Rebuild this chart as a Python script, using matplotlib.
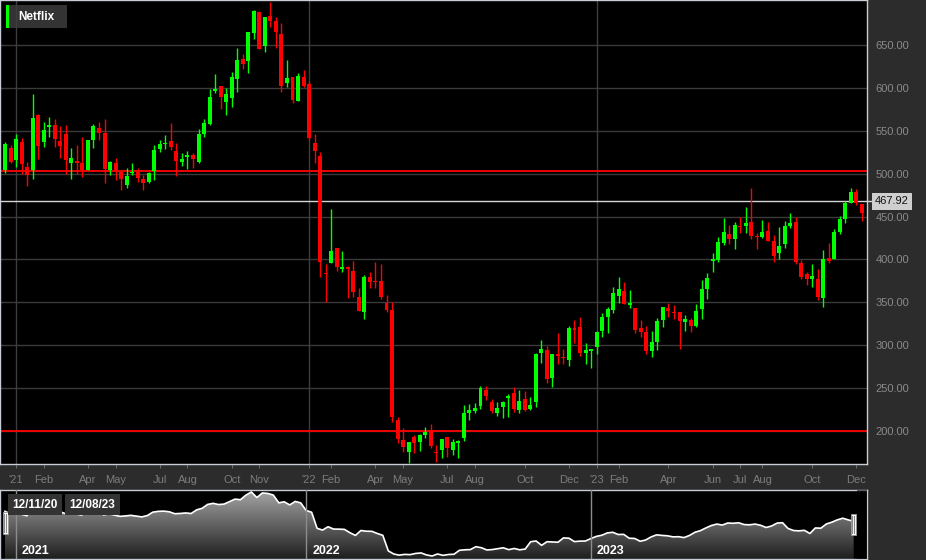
import numpy as np
import pandas as pd
import matplotlib
matplotlib.use('Agg')
import matplotlib.pyplot as plt
import matplotlib.transforms as mtransforms
from matplotlib.patches import Rectangle, Polygon
from matplotlib.colors import LinearSegmentedColormap

plt.rcParams['font.family'] = ['Liberation Sans', 'DejaVu Sans']

# weekly candles, weeks ending on Friday, first one 2020-12-18
first_week = '2020-12-18'
series_name = 'Netflix'

opens = [
    504.3, 530.3, 515.9, 537.3, 507.4, 504.3, 568.4, 536.5, 554.8, 556.7,
    538.5, 545.9, 512.1, 514.8, 512.8, 504.3, 539.3, 552.9, 547.4, 504.3,
    512.1, 501.6, 486.8, 501.2, 504.3, 493.4, 490.7, 503.1, 528.8, 534.2,
    538.1, 526.8, 513.2, 520.0, 521.8, 514.0, 545.9, 557.9, 596.8, 602.2,
    583.9, 587.8, 610.0, 633.7, 631.7, 663.6, 688.9, 648.8, 683.8, 678.4,
    662.8, 606.1, 612.3, 585.1, 613.1, 604.5, 535.4, 521.0, 384.6, 396.2,
    413.3, 388.9, 390.8, 386.9, 355.8, 339.1, 379.1, 374.9, 374.9, 349.6,
    341.1, 212.8, 189.5, 175.9, 192.6, 187.6, 195.3, 201.2, 175.9, 177.9,
    192.6, 177.9, 185.6, 192.2, 221.4, 223.7, 229.5, 247.8, 234.2, 221.4,
    227.6, 238.1, 243.9, 224.5, 237.3, 225.7, 233.4, 290.6, 294.4, 262.2,
    289.8, 286.6, 282.8, 319.7, 320.9, 291.3, 293.7, 298.3, 317.0, 332.5,
    341.1, 357.8, 363.2, 346.9, 343.8, 320.5, 315.0, 293.7, 303.4, 329.4,
    342.9, 339.1, 339.1, 327.5, 329.4, 322.4, 341.8, 365.5, 397.8, 399.4,
    419.6, 429.7, 423.8, 439.4, 439.4, 444.0, 427.3, 426.5, 433.2, 421.5,
    407.1, 418.0, 439.0, 444.0, 395.5, 382.6, 377.2, 377.2, 355.4, 401.3,
    400.1, 432.4, 446.7, 465.4, 479.0, 464.2,
]
highs = [
    536.5, 533.4, 545.9, 541.2, 514.0, 592.5, 569.2, 559.8, 566.5, 563.3,
    556.0, 556.7, 529.5, 533.4, 543.1, 539.3, 557.5, 560.2, 563.3, 515.2,
    517.9, 504.3, 506.2, 512.1, 506.2, 498.4, 502.3, 533.0, 539.3, 545.1,
    558.7, 536.1, 523.7, 526.4, 523.7, 551.7, 563.3, 598.3, 616.2, 602.2,
    599.5, 618.9, 646.1, 639.1, 664.8, 690.8, 690.1, 683.0, 700.5, 683.0,
    675.3, 632.5, 612.3, 617.0, 620.9, 608.4, 546.2, 525.6, 394.7, 458.8,
    413.3, 409.8, 392.7, 398.2, 366.3, 381.9, 385.8, 396.6, 394.7, 358.5,
    350.8, 216.7, 203.9, 187.6, 195.3, 196.5, 205.0, 207.8, 183.7, 190.7,
    192.6, 190.3, 189.5, 230.3, 231.5, 232.3, 252.5, 252.5, 236.9, 233.4,
    235.0, 242.7, 251.7, 247.8, 246.6, 239.3, 290.6, 306.1, 299.1, 289.8,
    313.9, 295.2, 322.4, 329.4, 332.5, 302.2, 295.2, 317.0, 337.2, 344.9,
    368.3, 379.2, 373.3, 364.4, 343.8, 329.4, 322.8, 316.6, 331.3, 345.0,
    349.6, 346.9, 339.1, 335.2, 331.3, 348.0, 376.0, 383.8, 407.1, 426.6,
    447.9, 440.2, 444.0, 449.9, 460.8, 482.9, 431.2, 446.0, 443.3, 428.5,
    437.4, 445.2, 453.7, 449.1, 399.4, 385.7, 394.3, 388.5, 411.0, 418.8,
    435.1, 450.6, 468.5, 482.9, 481.7, 464.2,
]
lows = [
    501.2, 512.1, 507.4, 499.6, 485.6, 493.4, 516.7, 531.5, 543.1, 531.5,
    517.9, 499.2, 493.4, 499.6, 496.5, 504.3, 529.5, 539.3, 488.7, 498.4,
    492.6, 481.0, 482.9, 498.4, 490.7, 481.0, 488.7, 492.6, 525.6, 528.8,
    527.6, 497.3, 509.3, 505.4, 507.0, 512.0, 543.1, 556.7, 593.6, 575.0,
    568.4, 577.3, 595.2, 621.6, 617.0, 657.0, 645.3, 642.2, 671.4, 646.1,
    594.8, 600.6, 582.0, 585.1, 600.6, 539.2, 512.0, 379.9, 350.8, 395.5,
    386.9, 385.8, 354.7, 356.6, 340.3, 330.2, 366.3, 366.3, 353.5, 339.1,
    210.9, 185.6, 175.9, 162.3, 174.7, 177.1, 191.5, 179.8, 164.2, 168.1,
    170.1, 172.0, 168.9, 188.7, 212.8, 220.6, 225.3, 236.1, 220.6, 217.5,
    214.8, 215.9, 221.8, 220.6, 223.7, 224.5, 228.4, 279.7, 255.6, 251.7,
    277.7, 277.7, 275.8, 302.2, 287.5, 278.1, 273.1, 289.8, 309.2, 313.9,
    337.2, 348.8, 347.7, 343.0, 313.9, 310.0, 289.4, 285.9, 294.4, 321.6,
    332.5, 330.2, 295.6, 317.0, 315.8, 320.9, 330.2, 353.5, 385.8, 396.6,
    416.8, 418.0, 411.8, 430.4, 431.2, 423.4, 411.8, 424.6, 421.9, 397.4,
    400.1, 412.9, 436.3, 394.7, 377.2, 370.2, 367.5, 352.7, 344.9, 395.5,
    400.1, 429.3, 442.9, 465.4, 463.5, 445.2,
]
closes = [
    534.2, 514.0, 540.4, 510.9, 498.4, 564.9, 532.6, 550.5, 556.7, 540.4,
    532.6, 515.9, 517.9, 512.8, 504.3, 539.3, 555.2, 547.0, 505.1, 514.0,
    504.3, 493.8, 497.3, 501.9, 495.3, 489.5, 500.4, 527.6, 534.2, 535.8,
    530.7, 515.2, 517.1, 521.2, 516.7, 546.2, 558.7, 589.8, 598.7, 589.0,
    592.5, 612.3, 632.5, 627.9, 664.8, 690.0, 645.3, 682.2, 678.4, 665.5,
    602.6, 611.1, 585.9, 613.9, 602.6, 541.2, 526.8, 397.4, 383.4, 410.2,
    391.6, 390.8, 388.9, 362.0, 340.3, 379.9, 374.1, 373.3, 355.8, 341.1,
    215.9, 190.7, 181.7, 187.6, 185.6, 195.3, 199.2, 182.9, 174.7, 190.7,
    179.8, 186.8, 188.7, 220.6, 224.5, 226.4, 249.7, 241.2, 223.3, 226.4,
    233.4, 240.8, 225.6, 235.3, 224.5, 230.3, 289.4, 295.6, 260.6, 289.8,
    287.8, 285.5, 320.5, 317.8, 290.6, 294.4, 295.2, 315.0, 332.5, 341.8,
    360.5, 365.5, 347.7, 348.8, 317.8, 315.8, 293.3, 303.4, 328.2, 345.0,
    340.3, 337.2, 328.6, 330.2, 322.8, 339.9, 365.5, 378.8, 400.5, 419.9,
    431.6, 423.8, 440.2, 438.2, 442.1, 427.7, 425.8, 431.6, 421.9, 404.4,
    416.1, 439.4, 442.9, 396.6, 379.9, 377.2, 381.1, 355.8, 400.5, 398.2,
    432.4, 446.7, 465.4, 479.0, 465.4, 453.8,
]

ref_levels = [503.5, 200.0]
last_price = 467.92
yticks = list(range(200, 651, 50))
tick_months = ['2021-01', '2021-02', '2021-04', '2021-05', '2021-07', '2021-08',
               '2021-10', '2021-11', '2022-01', '2022-02', '2022-04', '2022-05',
               '2022-07', '2022-08', '2022-10', '2022-12', '2023-01', '2023-02',
               '2023-04', '2023-06', '2023-07', '2023-08', '2023-10', '2023-12']
range_labels = ['12/11/20', '12/08/23']

W, H = 926, 560
BG = '#2c2c2c'
BORDER = '#c8ccd4'
GREEN = '#00ff00'
RED = '#ff0000'

dates = pd.date_range(first_week, periods=len(closes), freq='7D')
idx = np.arange(len(closes))
o = np.array(opens)
c = np.array(closes)

tick_idx, tick_lbls, year_idx = [], [], []
for m in tick_months:
    t = pd.Timestamp(m + '-01')
    i = int(np.argmax(dates >= t))
    tick_idx.append(i)
    if t.month == 1:
        tick_lbls.append("'" + t.strftime('%y'))
        year_idx.append((i, t.year))
    else:
        tick_lbls.append(t.strftime('%b'))

fig = plt.figure(figsize=(W / 100, H / 100), dpi=100, facecolor=BG)

# main candle chart
ax = fig.add_axes([0, 1 - 464 / H, 867 / W, 464 / H])
ax.set_facecolor('black')
ax.set_xlim(-0.904, len(closes) - 1 + 0.904)
ax.set_ylim(161.5, 702.5)

ax.set_yticks(yticks)
ax.set_yticklabels([f'{v:.2f}' for v in yticks])
ax.yaxis.tick_right()
ax.grid(axis='y', color='#3a3a3a', lw=1, zorder=0)
ax.set_axisbelow(True)
for i, _ in year_idx:
    ax.axvline(i, color='#3d3d3d', lw=1, zorder=1.5)

for lv in ref_levels:
    ax.axhline(lv, color=RED, lw=1.3, zorder=2)
ax.axhline(last_price, color='#d6d6d6', lw=1, zorder=2)
blend = mtransforms.blended_transform_factory(ax.transAxes, ax.transData)
ax.plot([1, 1 + 7 / 867], [last_price, last_price], color='#d6d6d6', lw=1,
        transform=blend, clip_on=False)
ax.text(1 + 8 / 867, last_price, f'{last_price:.2f}', transform=blend, ha='left',
        va='center', fontsize=8, color='#111111',
        bbox=dict(boxstyle='square,pad=0.3', fc='#cfcfcf', ec='none'))

col = np.where(c >= o, GREEN, RED)
ax.vlines(idx, lows, highs, colors=col, lw=1, zorder=3)
body_lo = np.minimum(o, c)
body_h = np.maximum(np.abs(c - o), 1.2)
ax.bar(idx, body_h, bottom=body_lo, width=0.72, color=col, linewidth=0, zorder=4)

ax.set_xticks(tick_idx)
ax.set_xticklabels(tick_lbls)
ax.tick_params(axis='x', colors='#666666', labelcolor='#7c7c7c', length=3,
               pad=5, labelsize=8)
ax.tick_params(axis='y', length=0, pad=6, labelcolor='#8a8a8a', labelsize=8)
for s in ax.spines.values():
    s.set_color(BORDER)
    s.set_linewidth(1)

# legend box
ax.add_patch(Rectangle((6 / 867, 1 - 28 / 464), 61 / 867, 23 / 464,
                       transform=ax.transAxes, fc='#333333', ec='none', zorder=1))
ax.add_patch(Rectangle((6 / 867, 1 - 28 / 464), 3 / 867, 23 / 464,
                       transform=ax.transAxes, fc=GREEN, ec='none', zorder=5))
ax.text(18 / 867, 1 - 16.5 / 464, series_name, transform=ax.transAxes, ha='left',
        va='center', fontsize=8.5, fontweight='bold', color='white', zorder=6)

# navigator
nav = fig.add_axes([0, 1 / H, 867 / W, 69 / H])
nav.set_facecolor('black')
nx0, nx1 = -0.913, 157.43
ny0, ny1 = 150.5, 706.0
nav.set_xlim(nx0, nx1)
nav.set_ylim(ny0, ny1)
verts = [(idx[0], ny0)] + list(zip(idx, closes)) + [(idx[-1], ny0)]
area = Polygon(verts, closed=True, fc='none', ec='none')
nav.add_patch(area)
cmap = LinearSegmentedColormap.from_list('nav', ['#1e1e1e', '#a6a6a6'])
grad = np.linspace(1, 0, 256).reshape(-1, 1)
img = nav.imshow(grad, cmap=cmap, extent=[nx0, nx1, ny0, ny1], aspect='auto',
                 zorder=1)
img.set_clip_path(area)
nav.plot(idx, closes, color='white', lw=1.2, zorder=3)

nblend = mtransforms.blended_transform_factory(nav.transData, nav.transAxes)
for i, yr in year_idx:
    nav.axvline(i, color='#8c8c8c', lw=1, zorder=4)
    nav.text(i + 1.1, 0.12, str(yr), transform=nblend, ha='left', va='center',
             fontsize=9, fontweight='bold', color='white', zorder=5)

# darker area after the selection
nav.add_patch(Rectangle((857 / 867, 0), 10 / 867, 1, transform=nav.transAxes,
                        fc='black', alpha=0.55, ec='none', zorder=3.5))

# selection handles
for hx, hy0, hy1 in [(2.7, 512, 534), (850.7, 514, 535)]:
    nav.add_patch(Rectangle((hx / 867, (559 - hy1) / 69), 5 / 867, (hy1 - hy0) / 69,
                            transform=nav.transAxes, fc='white', ec='#999999',
                            lw=0.6, zorder=6))
    for k in (1.7, 3.3):
        nav.plot([(hx + k) / 867] * 2, [(559 - hy1 + 2) / 69, (559 - hy0 - 2) / 69],
                 color='#8a8a8a', lw=0.8, transform=nav.transAxes, zorder=7)

nav.set_xticks([])
nav.set_yticks([])
for s in nav.spines.values():
    s.set_color(BORDER)
    s.set_linewidth(1)

for x, lbl in zip([35, 92.5], range_labels):
    fig.text(x / W, 1 - 504.5 / H, lbl, ha='center', va='center', fontsize=8.5,
             fontweight='bold', color='white',
             bbox=dict(boxstyle='square,pad=0.4', fc='#333333', ec='none'))

fig.savefig('out.png', dpi=100, facecolor=BG)
